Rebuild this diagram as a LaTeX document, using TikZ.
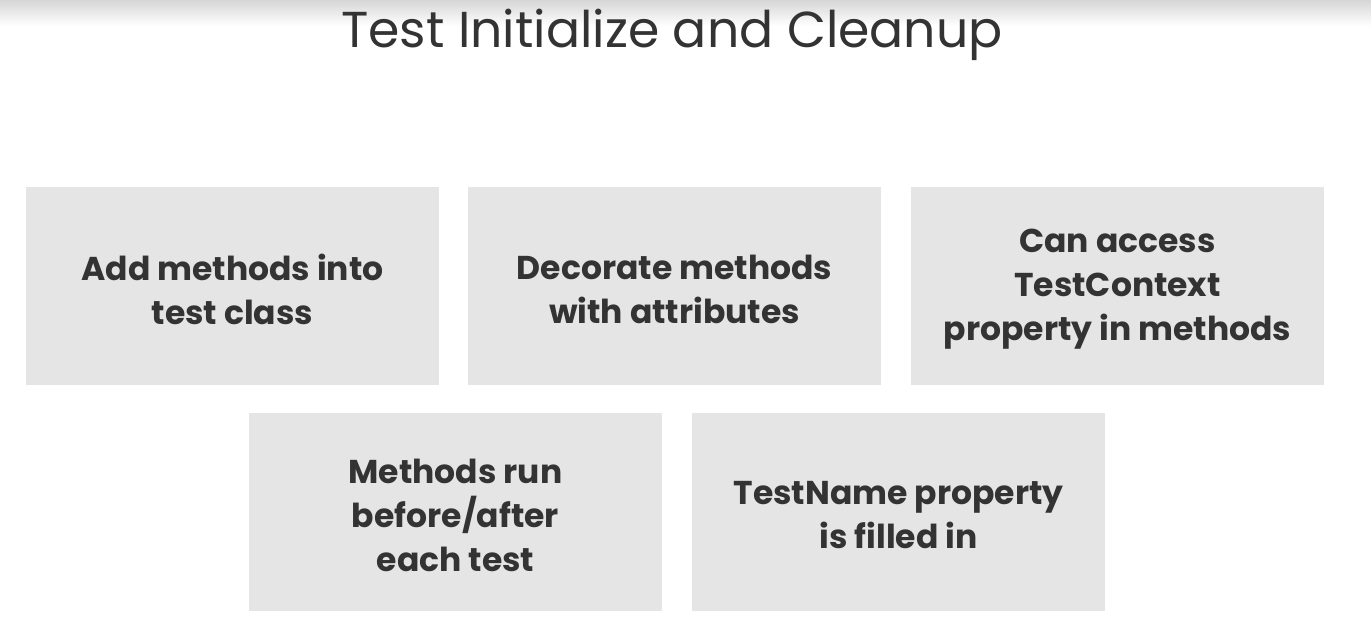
\documentclass[tikz,border=0pt]{standalone}
\usepackage{fontspec}
\setmainfont{Poppins}
\begin{document}
\begin{tikzpicture}[x=1pt,y=-1pt,
  card/.style={fill=boxgray,draw=none,minimum width=413pt,minimum height=198pt,inner sep=0pt},
  cardtext/.style={text=textgray,font=\fontsize{33}{44}\selectfont\bfseries,align=center,inner sep=0pt}]
\definecolor{boxgray}{HTML}{E5E5E5}
\definecolor{textgray}{HTML}{333333}
\definecolor{topgray}{HTML}{D6D6D6}
\useasboundingbox (0,0) rectangle (1371,627);
\fill[white] (0,0) rectangle (1371,627);
\shade[top color=topgray,bottom color=white] (0,0) rectangle (1371,26);
\node[text=textgray,font=\fontsize{50.5}{54}\selectfont,anchor=base] (title) at (672,47) {Test Initialize and Cleanup};
\node[card] (b1) at (232.5,286) {};
\node[card] (b2) at (674.5,286) {};
\node[card] (b3) at (1117.5,286) {};
\node[card] (b4) at (455.5,512) {};
\node[card] (b5) at (898.5,512) {};
\node[cardtext] (t1) at ([yshift=-3pt]b1.center) {Add methods into\\test class};
\node[cardtext] (t2) at ([yshift=-3pt]b2.center) {Decorate methods\\with attributes};
\node[cardtext] (t3) at ([yshift=-3pt]b3.center) {Can access\\TestContext\\property in methods};
\node[cardtext] (t4) at ([yshift=-3pt]b4.center) {Methods run\\before/after\\each test};
\node[cardtext] (t5) at ([yshift=-3pt]b5.center) {TestName property\\is filled in};
\end{tikzpicture}
\end{document}
